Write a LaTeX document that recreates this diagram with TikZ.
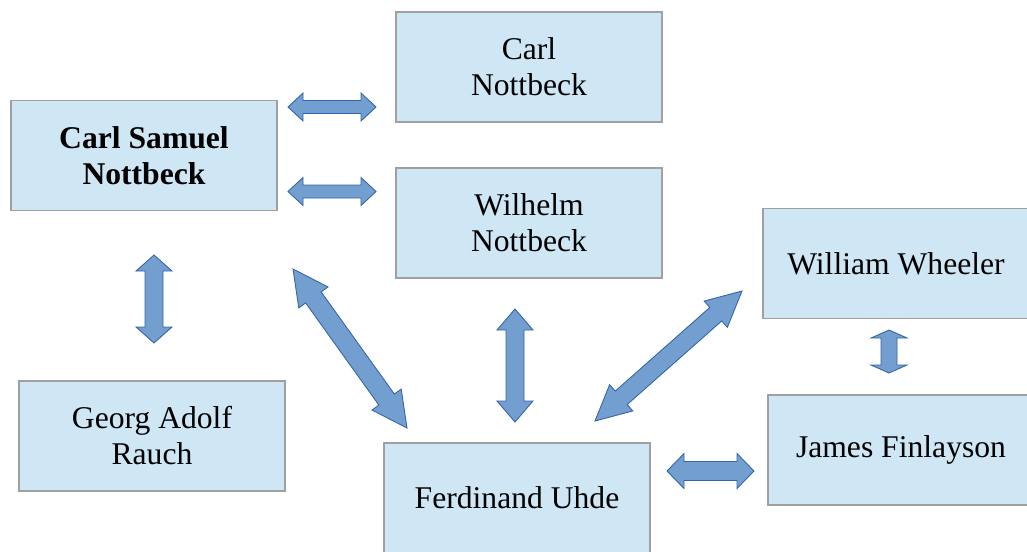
\documentclass[tikz,border=0pt]{standalone}
\usepackage{color}
\usepackage{fontspec}
\setmainfont{Liberation Serif}
\usetikzlibrary{calc}

\definecolor{boxfill}{RGB}{207,231,245}
\definecolor{boxline}{RGB}{160,160,160}
\definecolor{arrowfill}{RGB}{114,159,207}
\definecolor{arrowline}{RGB}{52,101,164}

\begin{document}
\begin{tikzpicture}
    [%%%%%%%%%%%%%%%%%%%%%%%%%%%%%%
        x=0.02cm,y=-0.02cm,
        box/.style={rectangle,draw=boxline,fill=boxfill,line width=0.8pt,inner sep=0pt,
            minimum width=5.32cm,minimum height=2.2cm,align=center,
            font=\fontsize{18}{20.5}\selectfont},
        blockarrow/.style n args={3}{draw=arrowline,fill=arrowfill,line width=0.5pt,line join=miter,
            to path={
                -- ($(\tikztostart)!#3!(\tikztotarget)!#2!90:(\tikztotarget)$)
                -- ($(\tikztostart)!#3!(\tikztotarget)!#1!90:(\tikztotarget)$)
                -- ($(\tikztotarget)!#3!(\tikztostart)!#1!-90:(\tikztostart)$)
                -- ($(\tikztotarget)!#3!(\tikztostart)!#2!-90:(\tikztostart)$)
                -- (\tikztotarget)
                -- ($(\tikztotarget)!#3!(\tikztostart)!#2!90:(\tikztostart)$)
                -- ($(\tikztotarget)!#3!(\tikztostart)!#1!90:(\tikztostart)$)
                -- ($(\tikztostart)!#3!(\tikztotarget)!#1!-90:(\tikztotarget)$)
                -- ($(\tikztostart)!#3!(\tikztotarget)!#2!-90:(\tikztotarget)$)
                -- cycle}},
    ]%%%%%%%%%%%%%%%%%%%%%%%%%%%%%%

\useasboundingbox (0,0) rectangle (1027,551);

\node[box, font=\fontsize{18}{20.5}\selectfont\bfseries] (csn) at (144,155.5){Carl Samuel\\Nottbeck};
\node[box] (cn) at (529,67){Carl\\Nottbeck};
\node[box] (wn) at (529,223){Wilhelm\\Nottbeck};
\node[box] (ww) at (896,263.5){William Wheeler};
\node[box] (jf) at (901,450){James Finlayson};
\node[box] (gar) at (152,436){Georg Adolf\\Rauch};
\node[box] (fu) at (517,498){Ferdinand Uhde};

% arrow ends
\coordinate (csncnA) at (288,107);   \coordinate (csncnB) at (376,107);
\coordinate (csnwnA) at (288,191.5); \coordinate (csnwnB) at (376,191.5);
\coordinate (csngarA) at (154,255);  \coordinate (csngarB) at (154,343);
\coordinate (csnfuA) at (293,269);   \coordinate (csnfuB) at (407,428);
\coordinate (wnfuA) at (515,309);    \coordinate (wnfuB) at (515,422);
\coordinate (wwfuA) at (742,291);    \coordinate (wwfuB) at (595,421);
\coordinate (wwjfA) at (889,330);    \coordinate (wwjfB) at (889,373);
\coordinate (fujfA) at (667,471);    \coordinate (fujfB) at (754,471);

\draw[blockarrow={0.13cm}{0.28cm}{0.3cm}] (csncnA) to (csncnB);
\draw[blockarrow={0.13cm}{0.28cm}{0.3cm}] (csnwnA) to (csnwnB);
\draw[blockarrow={0.18cm}{0.36cm}{0.32cm}] (csngarA) to (csngarB);
\draw[blockarrow={0.19cm}{0.36cm}{0.7cm}] (csnfuA) to (csnfuB);
\draw[blockarrow={0.18cm}{0.36cm}{0.42cm}] (wnfuA) to (wnfuB);
\draw[blockarrow={0.18cm}{0.35cm}{0.7cm}] (wwfuA) to (wwfuB);
\draw[blockarrow={0.16cm}{0.36cm}{0.16cm}] (wwjfA) to (wwjfB);
\draw[blockarrow={0.19cm}{0.35cm}{0.34cm}] (fujfA) to (fujfB);
\end{tikzpicture}
\end{document}
